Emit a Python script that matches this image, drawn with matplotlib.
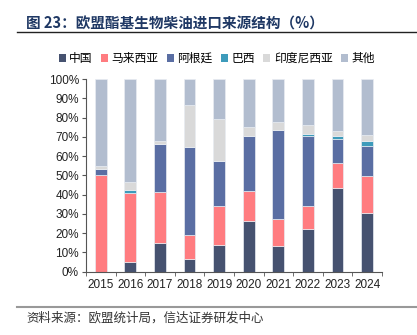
import matplotlib
matplotlib.use("Agg")
import matplotlib.pyplot as plt
import numpy as np
from matplotlib.lines import Line2D
from matplotlib.patches import Patch

plt.rcParams['font.family'] = ['Liberation Sans', 'Noto Sans CJK SC', 'DejaVu Sans']

years = ['2015', '2016', '2017', '2018', '2019', '2020', '2021', '2022', '2023', '2024']
series_names = ['中国', '马来西亚', '阿根廷', '巴西', '印度尼西亚', '其他']
china     = [0.0, 5.2, 14.7, 6.7, 13.8, 26.3, 13.3, 22.1, 43.4, 30.4]
malaysia  = [50.2, 35.8, 26.8, 12.3, 20.3, 15.7, 13.9, 12.0, 12.8, 19.3]
argentina = [2.9, 0.0, 24.8, 45.5, 23.3, 28.4, 46.3, 36.3, 12.7, 15.7]
brazil    = [0.0, 1.4, 0.0, 0.0, 0.0, 0.0, 0.0, 1.1, 1.7, 2.6]
indonesia = [1.7, 4.1, 1.7, 22.0, 21.7, 4.7, 4.0, 4.6, 2.4, 2.8]
others    = [45.2, 53.5, 32.0, 13.5, 20.9, 24.9, 22.5, 23.9, 27.0, 29.2]
colors = ['#465270', '#FF7C80', '#5A6EA3', '#3D9BBB', '#D9D9D9', '#B2BDCF']

fig = plt.figure(figsize=(4.17, 3.35), dpi=100)

# title and rules
fig.text(0.062, 0.93, '图 23：欧盟酯基生物柴油进口来源结构（%）', fontsize=10.5, fontweight='bold',
         color='#1F3864', family=['Noto Sans CJK SC'], va='center', ha='left')
fig.add_artist(Line2D([0.04, 1.0], [0.904, 0.904], color='#222222', lw=1.0))
fig.add_artist(Line2D([0.04, 1.0], [0.084, 0.084], color='#999999', lw=1.5))
fig.text(0.064, 0.052, '资料来源：欧盟统计局，信达证券研发中心', fontsize=9, color='#333333',
         family=['Noto Sans CJK SC'], va='center', ha='left')

ax = fig.add_axes([0.206, 0.189, 0.710, 0.575])
x = np.arange(len(years))
bottom = np.zeros(len(years))
data = [china, malaysia, argentina, brazil, indonesia, others]
for vals, col, name in zip(data, colors, series_names):
    vals = np.array(vals)
    ax.bar(x, vals, bottom=bottom, width=0.4, color=col, edgecolor='#E8ECF2', linewidth=0.5, label=name)
    bottom += vals

ax.set_xlim(-0.5, len(years) - 0.5)
ax.set_ylim(0, 100)
ax.set_yticks(np.arange(0, 101, 10))
ax.set_yticklabels([f'{v}%' for v in range(0, 101, 10)], fontsize=8.5, color='#222222')
ax.set_xticks(x)
ax.set_xticklabels(years, fontsize=8.5, color='#222222')
ax.tick_params(axis='x', length=0, pad=5)
ax.set_xticks(np.arange(-0.5, len(years)), minor=True)
ax.tick_params(axis='x', which='minor', length=3, color='#555555', direction='out')
ax.tick_params(axis='y', length=3, color='#555555', direction='out', pad=2)
for s in ['top', 'right']:
    ax.spines[s].set_visible(False)
for s in ['left', 'bottom']:
    ax.spines[s].set_color('#555555')
    ax.spines[s].set_linewidth(0.8)

handles = [Patch(facecolor=c, edgecolor='none') for c in colors]
fig.legend(handles, series_names, loc='center', bbox_to_anchor=(0.52, 0.825), ncol=6,
           frameon=False, handlelength=0.6, handleheight=0.6,
           handletextpad=0.3, columnspacing=0.7, prop={'family': ['Noto Sans CJK SC'], 'size': 8.5})

fig.savefig('out.png', dpi=100)
